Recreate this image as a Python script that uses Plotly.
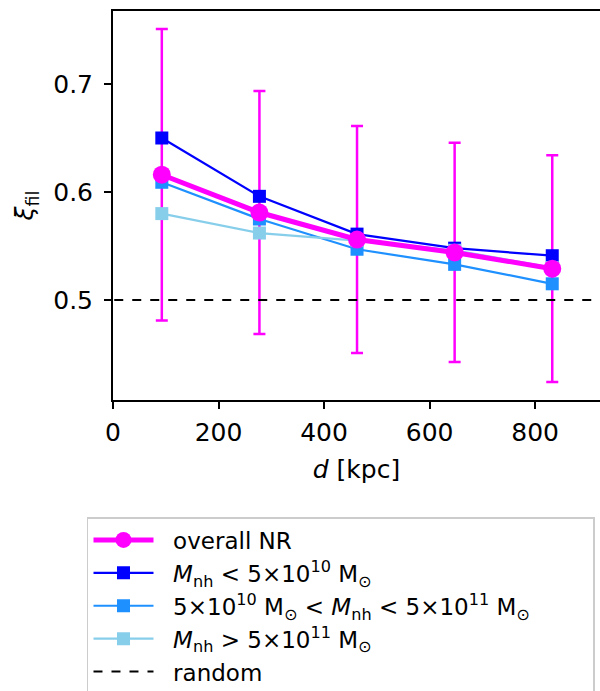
import plotly.graph_objects as go

d_kpc = [92.5, 277.5, 462.5, 647.5, 832.5]
overall_nr = [0.616, 0.581, 0.556, 0.544, 0.529]
overall_err = [0.135, 0.1125, 0.105, 0.1015, 0.105]
low_mass = [0.650, 0.596, 0.561, 0.548, 0.541]
mid_mass = [0.609, 0.575, 0.547, 0.533, 0.515]
high_mass = [0.580, 0.562, 0.555, 0.546, 0.530]
random_level = 0.5
x_range = [0, 923]
y_range = [0.4074, 0.7676]
x_ticks = [0, 200, 400, 600, 800]
y_ticks = [0.5, 0.6, 0.7]
y_ticktext = ["0.5", "0.6", "0.7"]

FONT = "DejaVu Sans"
PAD = "\u00a0\u00a0"
TAIL = "\u00a0" * 8
fig = go.Figure()

# error bars (drawn underneath)
fig.add_trace(go.Scatter(
    x=d_kpc, y=overall_nr, mode="markers",
    marker=dict(size=1, color="rgba(0,0,0,0)"),
    error_y=dict(type="data", array=overall_err, color="#ff00ff", thickness=2.5, width=6),
    showlegend=False, hoverinfo="skip"))

fig.add_trace(go.Scatter(
    x=d_kpc, y=low_mass, mode="lines+markers",
    name=PAD + "<i>M</i><sub>nh</sub> < 5×10<sup>10</sup> M<sub>⊙</sub>",
    line=dict(color="#0000ff", width=2.2),
    marker=dict(symbol="square", size=13, color="#0000ff"),
    legendrank=2))
fig.add_trace(go.Scatter(
    x=d_kpc, y=mid_mass, mode="lines+markers",
    name=PAD + "5×10<sup>10</sup> M<sub>⊙</sub> < <i>M</i><sub>nh</sub> < 5×10<sup>11</sup> M<sub>⊙</sub>" + TAIL,
    line=dict(color="#1e90ff", width=2.2),
    marker=dict(symbol="square", size=13, color="#1e90ff"),
    legendrank=3))
fig.add_trace(go.Scatter(
    x=d_kpc, y=high_mass, mode="lines+markers",
    name=PAD + "<i>M</i><sub>nh</sub> > 5×10<sup>11</sup> M<sub>⊙</sub>",
    line=dict(color="#87ceeb", width=2.2),
    marker=dict(symbol="square", size=13, color="#87ceeb"),
    legendrank=4))
fig.add_trace(go.Scatter(
    x=[x_range[0] - 100, x_range[1] + 100], y=[random_level, random_level],
    mode="lines", name=PAD + "random",
    line=dict(color="black", width=2, dash="dash"),
    legendrank=5))
fig.add_trace(go.Scatter(
    x=d_kpc, y=overall_nr, mode="lines+markers", name=PAD + "overall NR",
    line=dict(color="#ff00ff", width=5),
    marker=dict(symbol="circle", size=18, color="#ff00ff"),
    legendrank=1))

axis_common = dict(
    showgrid=False, zeroline=False, showline=True, linecolor="black", linewidth=2,
    ticks="outside", ticklen=7, tickwidth=2, tickcolor="black",
    tickfont=dict(family=FONT, size=25, color="black"))

fig.update_layout(
    width=600, height=691,
    margin=dict(l=113, r=0, t=11, b=291, autoexpand=False),
    paper_bgcolor="white", plot_bgcolor="white",
    font=dict(family=FONT, size=25, color="black"),
    xaxis=dict(range=x_range, tickvals=x_ticks, mirror=True, ticklabelstandoff=2,
               title=dict(text="<i>d</i> [kpc]", font=dict(family=FONT, size=25), standoff=14),
               **axis_common),
    yaxis=dict(range=y_range, tickvals=y_ticks, ticktext=y_ticktext, mirror=False,
               ticklabelstandoff=6,
               title=dict(text="<i>ξ</i><sub>fil</sub>", font=dict(family=FONT, size=25), standoff=12),
               **axis_common),
    legend=dict(x=-0.0534, y=-0.3008, xanchor="left", yanchor="top",
                bgcolor="white", bordercolor="#cccccc", borderwidth=1.5,
                font=dict(family=FONT, size=23, color="black"),
                itemwidth=60, tracegroupgap=0),
)

fig.write_html("out.html")
